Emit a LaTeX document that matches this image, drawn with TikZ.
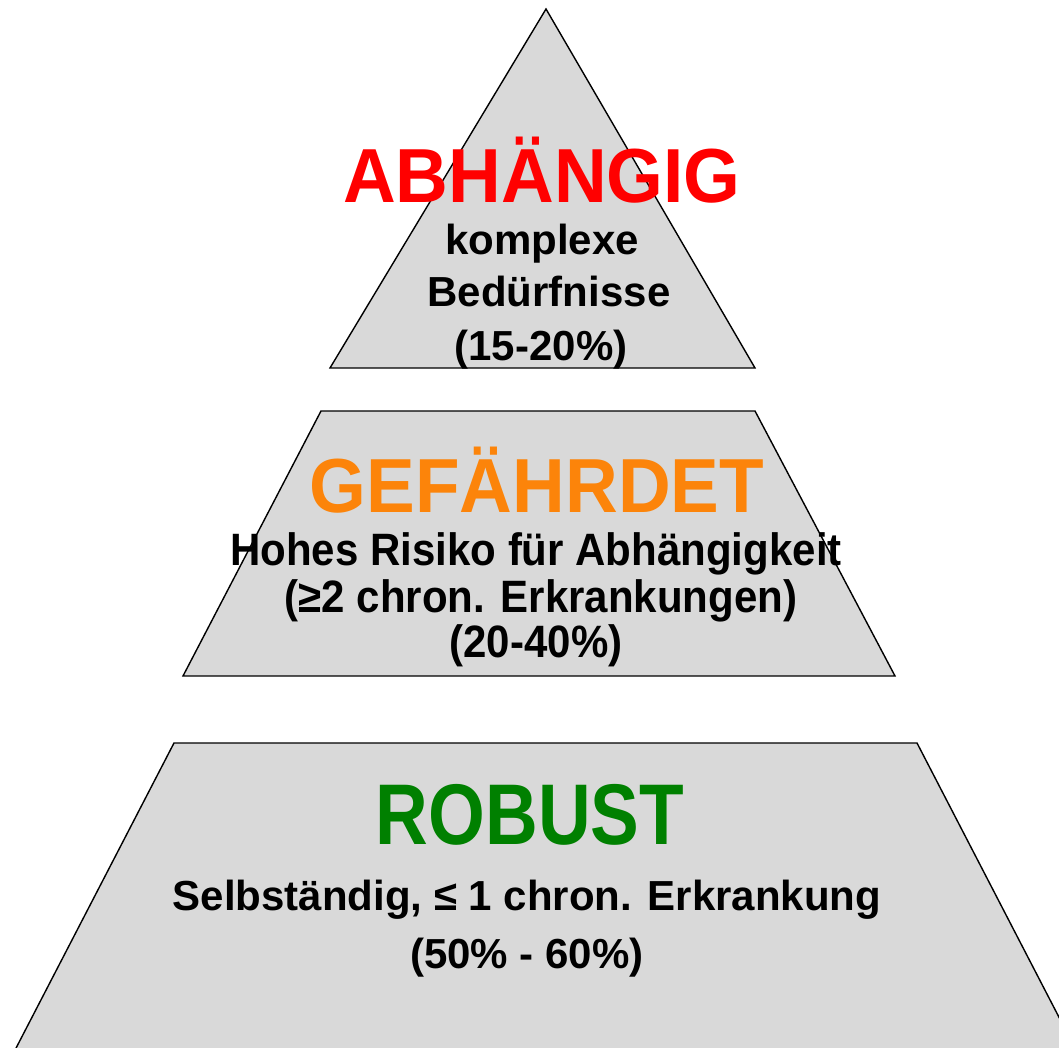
\documentclass[tikz,border=0pt]{standalone}
\usepackage{fontspec}
\usepackage{graphicx}
\setmainfont{Liberation Sans}
\definecolor{tiergray}{RGB}{217,217,217}
\definecolor{tierred}{RGB}{255,0,0}
\definecolor{tierorange}{RGB}{252,132,10}
\definecolor{tiergreen}{RGB}{0,128,0}
\tikzset{
  tier/.style={fill=tiergray, draw=black, line width=1.4pt, line join=miter},
  title/.style={anchor=base, inner sep=0pt, font=\bfseries\fontsize{73}{73}\selectfont},
  body/.style={anchor=base, inner sep=0pt, font=\bfseries\fontsize{42}{42}\selectfont},
}
\begin{document}
\begin{tikzpicture}[x=1pt, y=-1pt]
\useasboundingbox (0,0) rectangle (1059,1048);
\clip (0,0) rectangle (1059,1048);
\fill[white] (0,0) rectangle (1059,1048);
% shapes
\draw[tier] (546,9) -- (755,368) -- (330,368) -- cycle;
\draw[tier] (321,411) -- (755,411) -- (895,676) -- (183,676) -- cycle;
\draw[tier] (174,743) -- (917,743) -- (1077,1052) -- (14,1052) -- cycle;
% top
\node[title, text=tierred] (abh) at (542,203) {\scalebox{1}[1.05]{ABHÄNGIG}};
\node[body] (abh1) at (542,255) {komplexe};
\node[body] (abh2) at (549,306) {Bedürfnisse};
\node[body] (abh3) at (541,360) {(15-20\%)};
% middle
\node[title, text=tierorange] (gef) at (537,512) {\scalebox{1}[1.05]{GEFÄHRDET}};
\node[body] (gef1) at (536,565) {\scalebox{1}[1.08]{Hohes Risiko für Abhängigkeit}};
\node[body] (gef2) at (541,612) {\scalebox{1}[1.08]{(≥2 chron. Erkrankungen)}};
\node[body] (gef3) at (536,657) {\scalebox{1}[1.08]{(20-40\%)}};
% bottom
\node[title, text=tiergreen] (rob) at (530,844) {\scalebox{1}[1.18]{ROBUST}};
\node[body] (rob1) at (527,910) {Selbständig, ≤ 1 chron. Erkrankung};
\node[body] (rob2) at (527,968) {(50\% - 60\%)};
\end{tikzpicture}
\end{document}
